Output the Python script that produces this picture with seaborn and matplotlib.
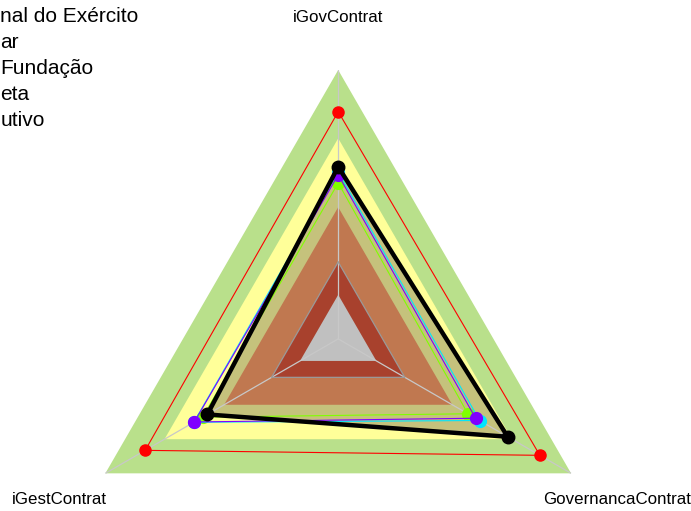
import numpy as np
import pandas as pd
import matplotlib
matplotlib.use("Agg")
import matplotlib.pyplot as plt
from matplotlib.lines import Line2D
import seaborn as sns

# Axes of the radar, clockwise from the top
eixos = ["iGovContrat", "GovernancaContrat", "iGestContrat"]

# Legend entries, as printed at the left edge of the figure
rotulos = ["nal do Exército", "ar", "Fundação", "eta", "utivo"]

# Index values per series (same order as eixos)
val_exercito = [0.640, 0.728, 0.562]
val_militar = [0.845, 0.866, 0.829]
val_fundacao = [0.580, 0.557, 0.582]
val_direta = [0.610, 0.590, 0.618]
val_executivo = [0.621, 0.607, 0.620]

# Maturity bands (outer limit of each band) and their colours
faixas = [1.000, 0.746, 0.490, 0.286, 0.164]
cores_faixas = ["#b9e08b", "#ffff99", "#c07850", "#a8412d", "#c0c0c0"]
cor_sombra = "#c5c27c"

sns.set_style("white")
plt.rcParams["font.family"] = ["Liberation Sans", "DejaVu Sans"]
plt.rcParams["text.color"] = "black"

valores = [val_exercito, val_militar, val_fundacao, val_direta, val_executivo]
series = dict(zip(rotulos, valores))
estilos = {
    rotulos[0]: dict(color="#000000", lw=3.2, ms=9),
    rotulos[1]: dict(color="#ff0000", lw=0.8, ms=8),
    rotulos[2]: dict(color="#80ff00", lw=0.8, ms=8.5),
    rotulos[3]: dict(color="#8000ff", lw=0.8, ms=8.5),
    rotulos[4]: dict(color="#00e5ff", lw=0.8, ms=8.5),
}

n = len(eixos)
theta = np.arange(n) * 2 * np.pi / n
theta_fech = np.append(theta, theta[0])

linhas = []
for org, vals in series.items():
    for k in range(n + 1):
        linhas.append({"serie": org, "ordem": k, "theta": theta_fech[k],
                       "valor": vals[k % n]})
df = pd.DataFrame(linhas)

fig = plt.figure(figsize=(6.91, 5.11), dpi=100)
ax = fig.add_axes([0.1003, -0.1894, 0.7783, 1.0524], projection="polar")
ax.set_theta_offset(np.pi / 2)
ax.set_theta_direction(-1)
ax.set_ylim(0, 1)
ax.grid(False)
ax.spines["polar"].set_visible(False)
ax.patch.set_visible(False)
ax.set_xticks([])
ax.set_yticks([])

# background bands
ax.fill(theta_fech, [faixas[0]] * (n + 1), color=cores_faixas[0], lw=0, zorder=1)
ax.fill(theta_fech, [faixas[1]] * (n + 1), color=cores_faixas[1], lw=0, zorder=1.1)
ax.fill(theta_fech, val_exercito + [val_exercito[0]], color=cor_sombra, lw=0, zorder=1.2)
for i, (lvl, cor) in enumerate(zip(faixas[2:], cores_faixas[2:])):
    ax.fill(theta_fech, [lvl] * (n + 1), color=cor, lw=0, zorder=1.3 + 0.1 * i)

# grid: spokes and inner ring
for t in theta:
    ax.plot([t, t], [0, 1], color="#c8c8c8", lw=0.9, zorder=2)
ax.plot(theta_fech, [faixas[3]] * (n + 1), color="#9a9a9a", lw=0.9, zorder=2)

# series
ordem_desenho = [rotulos[1], rotulos[2], rotulos[4], rotulos[3], rotulos[0]]
for z, org in enumerate(ordem_desenho):
    st = estilos[org]
    sub = df[df["serie"] == org]
    sns.lineplot(data=sub, x="theta", y="valor", sort=False, estimator=None,
                 color=st["color"], linewidth=st["lw"], ax=ax, zorder=3 + z)
    ax.plot(theta, series[org], ls="none", marker="o", ms=st["ms"],
            color=st["color"], zorder=3.5 + z, clip_on=False)

ax.set_xlabel("")
ax.set_ylabel("")

# axis names
for t, nome in zip(theta, eixos):
    ax.text(t, 1.197, nome, ha="center", va="center", fontsize=12.2, color="black")

handles = [Line2D([], [], color=estilos[o]["color"], lw=estilos[o]["lw"],
                  marker="o", ms=6) for o in rotulos]
fig.legend(handles, rotulos, loc="upper left", bbox_to_anchor=(-0.0840, 0.986),
           frameon=False, fontsize=15, borderpad=0, borderaxespad=0,
           handlelength=2, handletextpad=0.8, labelspacing=0.33)

fig.savefig("out.png", dpi=100)
